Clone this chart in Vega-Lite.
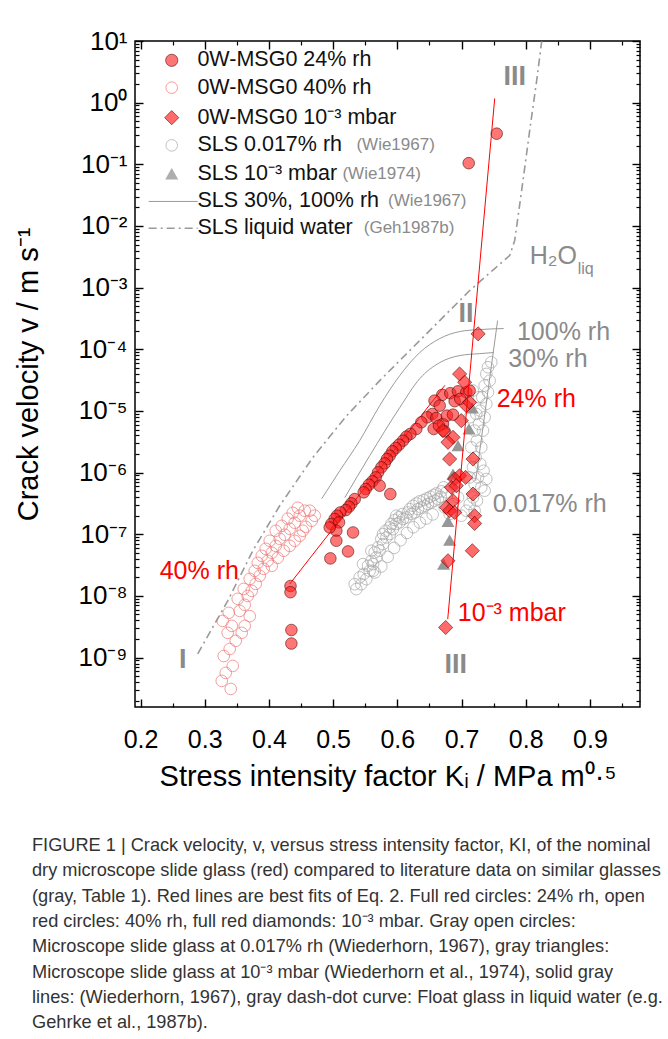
{
  "$schema": "https://vega.github.io/schema/vega-lite/v6.json",
  "width": 505,
  "height": 666,
  "autosize": {"type": "none"},
  "padding": {"left": 135, "top": 41, "right": 28, "bottom": 332},
  "background": "white",
  "title": {
    "text": [
      "FIGURE 1 | Crack velocity, v, versus stress intensity factor, KI, of the nominal",
      "dry microscope slide glass (red) compared to literature data on similar glasses",
      "(gray, Table 1). Red lines are best fits of Eq. 2. Full red circles: 24% rh, open",
      "red circles: 40% rh, full red diamonds: 10⁻³ mbar. Gray open circles:",
      "Microscope slide glass at 0.017% rh (Wiederhorn, 1967), gray triangles:",
      "Microscope slide glass at 10⁻³ mbar (Wiederhorn et al., 1974), solid gray",
      "lines: (Wiederhorn, 1967), gray dash-dot curve: Float glass in liquid water (e.g.",
      "Gehrke et al., 1987b)."
    ],
    "orient": "bottom",
    "anchor": "start",
    "frame": "group",
    "align": "left",
    "baseline": "top",
    "dx": -103,
    "offset": 46,
    "font": "Liberation Sans",
    "fontSize": 18.2,
    "fontWeight": "normal",
    "color": "#333333",
    "lineHeight": 25.3
  },
  "datasets": {
    "r24": [
      {"K":0.670,"v":1.82e-5},{"K":0.6825,"v":1.94e-5},{"K":0.6945,"v":2.08e-5},{"K":0.7075,"v":2.01e-5},{"K":0.7126,"v":2.14e-5},
      {"K":0.658,"v":1.47e-5},{"K":0.666,"v":1.22e-5},{"K":0.6893,"v":1.44e-5},{"K":0.698,"v":1.57e-5},{"K":0.6545,"v":8.93e-6},
      {"K":0.6467,"v":7.89e-6},{"K":0.6607,"v":7.69e-6},{"K":0.6711,"v":6.15e-6},{"K":0.6773,"v":8.4e-6},{"K":0.6867,"v":8.71e-6},
      {"K":0.6566,"v":5.1e-6},{"K":0.6374,"v":6.55e-6},{"K":0.6296,"v":5.1e-6},{"K":0.6203,"v":4.24e-6},{"K":0.6141,"v":3.83e-6},
      {"K":0.6089,"v":3.3e-6},{"K":0.6027,"v":2.84e-6},{"K":0.5975,"v":2.51e-6},{"K":0.5923,"v":2.21e-6},{"K":0.5881,"v":1.88e-6},
      {"K":0.5839,"v":1.66e-6},{"K":0.5803,"v":1.41e-6},{"K":0.5752,"v":1.22e-6},{"K":0.57,"v":1.01e-6},{"K":0.5663,"v":8.37e-7},
      {"K":0.5611,"v":7.21e-7},{"K":0.5559,"v":6.37e-7},{"K":0.5507,"v":5.42e-7},{"K":0.5476,"v":4.79e-7},{"K":0.5725,"v":6.14e-7},
      {"K":0.5891,"v":4.49e-7},{"K":0.5336,"v":3.72e-7},{"K":0.5284,"v":3.17e-7},{"K":0.5247,"v":2.8e-7},{"K":0.5196,"v":2.47e-7},
      {"K":0.5112,"v":2.26e-7},{"K":0.5061,"v":2.0e-7},{"K":0.5024,"v":1.77e-7},{"K":0.4972,"v":1.47e-7},{"K":0.5092,"v":1.56e-7},
      {"K":0.505,"v":1.14e-7},{"K":0.531,"v":1.07e-7},{"K":0.505,"v":7.85e-8},{"K":0.5232,"v":5.27e-8},{"K":0.4957,"v":4.06e-8},
      {"K":0.4947,"v":1.29e-7},{"K":0.4336,"v":1.45e-8},{"K":0.4336,"v":1.15e-8},{"K":0.435,"v":2.8e-9},{"K":0.435,"v":1.69e-9},
      {"K":0.6737,"v":4.68e-6},{"K":0.6649,"v":5.78e-6},{"K":0.7112,"v":0.1045},{"K":0.7548,"v":0.314}
    ],
    "r40": [
      {"K":0.3405,"v":3.1e-10},{"K":0.3265,"v":4.19e-10},{"K":0.3327,"v":5.65e-10},{"K":0.3436,"v":7.33e-10},{"K":0.3296,"v":1.06e-9},
      {"K":0.3389,"v":1.38e-9},{"K":0.3483,"v":1.87e-9},{"K":0.3358,"v":2.52e-9},{"K":0.3421,"v":3.27e-9},{"K":0.328,"v":3.94e-9},
      {"K":0.3374,"v":5.32e-9},{"K":0.3545,"v":5.73e-9},{"K":0.3623,"v":7.17e-9},{"K":0.3514,"v":8.97e-9},{"K":0.367,"v":1.0e-8},
      {"K":0.3732,"v":1.21e-8},{"K":0.3607,"v":1.3e-8},{"K":0.3794,"v":1.57e-8},{"K":0.3701,"v":1.89e-8},{"K":0.3857,"v":2.12e-8},
      {"K":0.3779,"v":2.55e-8},{"K":0.3919,"v":2.75e-8},{"K":0.3826,"v":3.44e-8},{"K":0.3981,"v":3.71e-8},{"K":0.3888,"v":4.48e-8},
      {"K":0.4044,"v":5.01e-8},{"K":0.395,"v":5.82e-8},{"K":0.4106,"v":6.5e-8},{"K":0.4013,"v":7.84e-8},{"K":0.4168,"v":8.45e-8},
      {"K":0.4246,"v":9.82e-8},{"K":0.4106,"v":1.14e-7},{"K":0.4324,"v":1.23e-7},{"K":0.4199,"v":1.37e-7},{"K":0.4402,"v":1.54e-7},
      {"K":0.4293,"v":1.79e-7},{"K":0.448,"v":2.0e-7},{"K":0.4371,"v":2.23e-7},{"K":0.4558,"v":2.41e-7},{"K":0.4449,"v":2.69e-7},
      {"K":0.4636,"v":2.41e-7},{"K":0.4667,"v":1.66e-7},{"K":0.4573,"v":1.32e-7},{"K":0.448,"v":9.46e-8},{"K":0.4402,"v":7.84e-8},
      {"K":0.4713,"v":2.0e-7},{"K":0.4527,"v":1.14e-7},{"K":0.4324,"v":6.5e-8},{"K":0.4231,"v":5.4e-8},{"K":0.4137,"v":4.15e-8},
      {"K":0.4044,"v":3.08e-8},{"K":0.3623,"v":3.27e-9},{"K":0.3701,"v":4.7e-9},{"K":0.3576,"v":2.52e-9}
    ],
    "sls": [
      {"K":0.5362,"v":1.29e-8},{"K":0.5439,"v":1.55e-8},{"K":0.5517,"v":1.87e-8},{"K":0.5476,"v":2.26e-8},{"K":0.5569,"v":2.56e-8},
      {"K":0.5543,"v":3.08e-8},{"K":0.5622,"v":3.28e-8},{"K":0.5596,"v":3.71e-8},{"K":0.5673,"v":4.22e-8},{"K":0.5647,"v":5.08e-8},
      {"K":0.5725,"v":5.41e-8},{"K":0.5699,"v":6.12e-8},{"K":0.5777,"v":6.93e-8},{"K":0.5751,"v":8.36e-8},{"K":0.5829,"v":8.89e-8},
      {"K":0.5881,"v":1.01e-7},{"K":0.5818,"v":1.14e-7},{"K":0.5933,"v":1.21e-7},{"K":0.5907,"v":1.47e-7},{"K":0.5984,"v":1.47e-7},
      {"K":0.5958,"v":1.7e-7},{"K":0.6036,"v":1.56e-7},{"K":0.6026,"v":1.88e-7},{"K":0.6088,"v":1.77e-7},{"K":0.6078,"v":2.13e-7},
      {"K":0.6141,"v":1.88e-7},{"K":0.6166,"v":2.26e-7},{"K":0.6218,"v":2.13e-7},{"K":0.6192,"v":2.56e-7},{"K":0.627,"v":2.26e-7},
      {"K":0.6244,"v":2.9e-7},{"K":0.6322,"v":2.56e-7},{"K":0.6296,"v":3.17e-7},{"K":0.6374,"v":2.73e-7},{"K":0.6348,"v":3.42e-7},
      {"K":0.6426,"v":2.9e-7},{"K":0.641,"v":3.59e-7},{"K":0.6477,"v":3.09e-7},{"K":0.6462,"v":3.82e-7},{"K":0.6529,"v":3.29e-7},
      {"K":0.6514,"v":4.06e-7},{"K":0.6581,"v":3.5e-7},{"K":0.6566,"v":4.33e-7},{"K":0.6633,"v":3.72e-7},{"K":0.6607,"v":4.6e-7},
      {"K":0.6675,"v":4.06e-7},{"K":0.6685,"v":4.97e-7},{"K":0.6721,"v":5.77e-7},{"K":0.6763,"v":4.79e-7},{"K":0.5413,"v":2.0e-8},
      {"K":0.5336,"v":1.55e-8},{"K":0.5622,"v":2.56e-8},{"K":0.5984,"v":2.0e-7},{"K":0.5881,"v":1.29e-7},{"K":0.5777,"v":1.01e-7},
      {"K":0.5596,"v":5.41e-8},{"K":0.5465,"v":3.28e-8},
      {"K":0.565,"v":2.4e-8},{"K":0.575,"v":3.0e-8},{"K":0.585,"v":4.3e-8},{"K":0.595,"v":6.0e-8},{"K":0.605,"v":8.0e-8},
      {"K":0.615,"v":1.05e-7},{"K":0.625,"v":1.3e-7},{"K":0.635,"v":1.55e-7},{"K":0.645,"v":1.8e-7},{"K":0.655,"v":2.1e-7},
      {"K":0.7464,"v":6.17e-5},{"K":0.7412,"v":5.12e-5},{"K":0.7386,"v":3.99e-5},{"K":0.7438,"v":3.1e-5},{"K":0.736,"v":2.58e-5},
      {"K":0.7412,"v":2.01e-5},{"K":0.7323,"v":1.67e-5},{"K":0.7386,"v":1.3e-5},{"K":0.7292,"v":1.01e-5},{"K":0.736,"v":7.89e-6},
      {"K":0.7272,"v":6.15e-6},{"K":0.7334,"v":4.8e-6},{"K":0.724,"v":3.3e-6},{"K":0.7308,"v":2.57e-6},{"K":0.722,"v":1.77e-6},
      {"K":0.7292,"v":1.38e-6},{"K":0.7344,"v":1.07e-6},{"K":0.7256,"v":8.37e-7},{"K":0.7204,"v":6.53e-7},{"K":0.7308,"v":5.77e-7},
      {"K":0.7386,"v":7.87e-7},{"K":0.736,"v":5.09e-7},{"K":0.7179,"v":3.96e-7},{"K":0.7127,"v":3.09e-7},{"K":0.7204,"v":2.41e-7},
      {"K":0.724,"v":3.5e-7},{"K":0.7075,"v":2.41e-7},{"K":0.6997,"v":2.0e-7},{"K":0.6867,"v":3.09e-7},{"K":0.6945,"v":3.96e-7},
      {"K":0.7126,"v":8.37e-7},{"K":0.7178,"v":1.22e-6},{"K":0.7152,"v":2.57e-6},{"K":0.7204,"v":4.8e-6},{"K":0.723,"v":8.93e-6},
      {"K":0.7272,"v":1.67e-5},{"K":0.7126,"v":7.89e-6},{"K":0.7178,"v":2.14e-5},{"K":0.6815,"v":2.13e-7},{"K":0.6737,"v":2.73e-7}
    ],
    "tri": [
      {"K":0.7168,"v":1.12e-5},{"K":0.7116,"v":5.11e-6},{"K":0.6945,"v":2.74e-6},{"K":0.6867,"v":9.48e-7},
      {"K":0.6789,"v":1.62e-7},{"K":0.6815,"v":8.05e-8},{"K":0.6721,"v":3.28e-8}
    ],
    "dia": [
      {"K":0.7259,"v":1.78e-4},{"K":0.697,"v":3.98e-5},{"K":0.7048,"v":2.92e-5},{"K":0.7074,"v":1.22e-5},{"K":0.7126,"v":1.38e-5},
      {"K":0.6867,"v":3.73e-6},{"K":0.6789,"v":3.1e-6},{"K":0.6815,"v":1.66e-6},{"K":0.7179,"v":1.66e-6},{"K":0.697,"v":8.91e-7},
      {"K":0.7064,"v":8.37e-7},{"K":0.6893,"v":7.87e-7},{"K":0.6841,"v":5.77e-7},{"K":0.6919,"v":6.14e-7},{"K":0.7179,"v":4.49e-7},
      {"K":0.6867,"v":3.5e-7},{"K":0.6763,"v":2.73e-7},{"K":0.6815,"v":2.41e-7},{"K":0.6893,"v":2.26e-7},{"K":0.7204,"v":2.0e-7},
      {"K":0.7204,"v":1.5e-7},{"K":0.7168,"v":5.41e-8},{"K":0.6789,"v":3.72e-8},{"K":0.6753,"v":3.08e-9},{"K":0.6711,"v":4.8e-6},
      {"K":0.6996,"v":6.97e-6}
    ],
    "curves": [
      {"curve":"water","K":0.2891,"v":1.15e-9},{"curve":"water","K":0.3358,"v":8.32e-9},{"curve":"water","K":0.3748,"v":5.39e-8},
      {"curve":"water","K":0.4168,"v":2.9e-7},{"curve":"water","K":0.4682,"v":1.75e-6},{"curve":"water","K":0.5212,"v":8.4e-6},
      {"curve":"water","K":0.5726,"v":3.1e-5},{"curve":"water","K":0.6193,"v":9.53e-5},{"curve":"water","K":0.666,"v":2.92e-4},
      {"curve":"water","K":0.7127,"v":8.97e-4},{"curve":"water","K":0.7517,"v":2.04e-3},{"curve":"water","K":0.775,"v":3.32e-3},
      {"curve":"water","K":0.7828,"v":5.82e-3},{"curve":"water","K":0.7937,"v":0.0377},{"curve":"water","K":0.8062,"v":0.355},
      {"curve":"water","K":0.8171,"v":2.3},{"curve":"water","K":0.8249,"v":9.89},
      {"curve":"rh100","K":0.4822,"v":3.77e-7},{"curve":"rh100","K":0.5103,"v":1.07e-6},{"curve":"rh100","K":0.5414,"v":3.3e-6},
      {"curve":"rh100","K":0.5726,"v":1.22e-5},{"curve":"rh100","K":0.6037,"v":3.74e-5},{"curve":"rh100","K":0.6349,"v":8.85e-5},
      {"curve":"rh100","K":0.666,"v":1.49e-4},{"curve":"rh100","K":0.6972,"v":1.94e-4},{"curve":"rh100","K":0.7283,"v":2.09e-4},
      {"curve":"rh100","K":0.7657,"v":2.17e-4},
      {"curve":"rh30","K":0.5181,"v":3.92e-7},{"curve":"rh30","K":0.557,"v":1.88e-6},{"curve":"rh30","K":0.6037,"v":1.13e-5},
      {"curve":"rh30","K":0.6349,"v":3.34e-5},{"curve":"rh30","K":0.666,"v":6.08e-5},{"curve":"rh30","K":0.6972,"v":7.91e-5},
      {"curve":"rh30","K":0.7283,"v":8.51e-5},{"curve":"rh30","K":0.7501,"v":8.85e-5},
      {"curve":"slsIII","K":0.722,"v":7.38e-7},{"curve":"slsIII","K":0.7562,"v":2.92e-4},
      {"curve":"fitB","K":0.4324,"v":1.56e-8},{"curve":"fitB","K":0.674,"v":2.6e-5},
      {"curve":"fitA","K":0.6785,"v":4.2e-9},{"curve":"fitA","K":0.7517,"v":1.17}
    ],
    "legendLines": [
      {"item":"solid","K":0.2127,"v":0.025},{"item":"solid","K":0.289,"v":0.025},
      {"item":"dashdot","K":0.2127,"v":0.0092},{"item":"dashdot","K":0.289,"v":0.0092}
    ],
    "legendText": [
      {"part":"main","text":"0W-MSG0 24% rh","K":0.2886,"v":4.86},
      {"part":"main","text":"0W-MSG0 40% rh","K":0.2886,"v":1.75},
      {"part":"main","text":"0W-MSG0 10⁻³ mbar","K":0.2886,"v":0.571},
      {"part":"main","text":"SLS  0.017% rh","K":0.2886,"v":0.203},
      {"part":"main","text":"SLS 10⁻³ mbar","K":0.2886,"v":0.0703},
      {"part":"main","text":"SLS 30%, 100% rh","K":0.2886,"v":0.025},
      {"part":"main","text":"SLS liquid water","K":0.2886,"v":0.0092},
      {"part":"ref","text":"(Wie1967)","K":0.5363,"v":0.203},
      {"part":"ref","text":"(Wie1974)","K":0.5145,"v":0.0703},
      {"part":"ref","text":"(Wie1967)","K":0.5855,"v":0.025},
      {"part":"ref","text":"(Geh1987b)","K":0.5477,"v":0.0092}
    ],
    "labels": [
      {"group":"numeral","text":"III","K":0.7829,"v":2.58},
      {"group":"numeral","text":"II","K":0.7068,"v":3.8e-4},
      {"group":"numeral","text":"I","K":0.2657,"v":9.18e-10},
      {"group":"numeral","text":"III","K":0.691,"v":7.62e-10},
      {"group":"gray","text":"100% rh","K":0.7863,"v":1.94e-4},
      {"group":"gray","text":"30% rh","K":0.7729,"v":7.06e-5},
      {"group":"gray","text":"0.017% rh","K":0.7486,"v":3.13e-7},
      {"group":"gray","text":"H₂O","K":0.8063,"v":3.32e-3},
      {"group":"red","text":"24% rh","K":0.7548,"v":1.57e-5},
      {"group":"red","text":"40% rh","K":0.2299,"v":2.55e-8},
      {"group":"red","text":"10⁻³ mbar","K":0.6941,"v":5.32e-9},
      {"group":"sub","text":"liq","K":0.881,"v":2.04e-3}
    ]
  },
  "layer": [
    {
      "data": {"name": "curves"},
      "transform": [{"filter": "datum.curve === 'water'"}],
      "mark": {"type": "line", "stroke": "#999999", "strokeWidth": 1.6, "strokeDash": [8, 4, 2, 4]},
      "encoding": {
        "x": {"field": "K", "type": "quantitative", "scale": {"domain": [0.1914, 0.978], "nice": false, "zero": false}, "axis": null},
        "y": {"field": "v", "type": "quantitative", "scale": {"type": "log", "domain": [1.58e-10, 10], "nice": false}, "axis": null}
      }
    },
    {
      "data": {"name": "curves"},
      "transform": [{"filter": "datum.curve === 'rh100' || datum.curve === 'rh30' || datum.curve === 'slsIII'"}],
      "mark": {"type": "line", "stroke": "#9a9a9a", "strokeWidth": 1, "interpolate": "monotone"},
      "encoding": {
        "x": {"field": "K", "type": "quantitative", "axis": null},
        "y": {"field": "v", "type": "quantitative", "axis": null},
        "detail": {"field": "curve"}
      }
    },
    {
      "data": {"name": "sls"},
      "mark": {"type": "point", "shape": "circle", "filled": false, "stroke": "#a6a6a6", "strokeWidth": 1, "size": 135},
      "encoding": {
        "x": {"field": "K", "type": "quantitative", "axis": {
          "orient": "top", "values": [0.2,0.3,0.4,0.5,0.6,0.7,0.8,0.9],
          "labels": false, "title": null, "domain": false, "ticks": true, "tickSize": -8, "tickColor": "#000000", "tickWidth": 1.4, "zindex": 2
        }},
        "y": {"field": "v", "type": "quantitative", "axis": {
          "orient": "right", "values": [1e-9,1e-8,1e-7,1e-6,1e-5,1e-4,1e-3,0.01,0.1,1,10],
          "labels": false, "title": null, "domain": false, "ticks": true, "tickSize": -8, "tickColor": "#000000", "tickWidth": 1.4, "zindex": 2
        }}
      }
    },
    {
      "data": {"name": "r40"},
      "mark": {"type": "point", "shape": "circle", "filled": false, "stroke": "#f07575", "strokeWidth": 1, "size": 135},
      "encoding": {
        "x": {"field": "K", "type": "quantitative", "axis": {
          "orient": "bottom", "values": [0.25,0.35,0.45,0.55,0.65,0.75,0.85,0.95],
          "labels": false, "title": null, "domain": false, "ticks": true, "tickSize": -4, "tickColor": "#000000", "tickWidth": 1.2, "zindex": 2
        }},
        "y": {"field": "v", "type": "quantitative", "axis": {
          "orient": "left",
          "values": [2e-10,3e-10,4e-10,5e-10,6e-10,7e-10,8e-10,9e-10,2e-9,3e-9,4e-9,5e-9,6e-9,7e-9,8e-9,9e-9,2e-8,3e-8,4e-8,5e-8,6e-8,7e-8,8e-8,9e-8,2e-7,3e-7,4e-7,5e-7,6e-7,7e-7,8e-7,9e-7,2e-6,3e-6,4e-6,5e-6,6e-6,7e-6,8e-6,9e-6,2e-5,3e-5,4e-5,5e-5,6e-5,7e-5,8e-5,9e-5,2e-4,3e-4,4e-4,5e-4,6e-4,7e-4,8e-4,9e-4,2e-3,3e-3,4e-3,5e-3,6e-3,7e-3,8e-3,9e-3,0.02,0.03,0.04,0.05,0.06,0.07,0.08,0.09,0.2,0.3,0.4,0.5,0.6,0.7,0.8,0.9,2,3,4,5,6,7,8,9],
          "labels": false, "title": null, "domain": false, "ticks": true, "tickSize": -4, "tickColor": "#000000", "tickWidth": 1.2, "zindex": 2
        }}
      }
    },
    {
      "data": {"name": "curves"},
      "transform": [{"filter": "datum.curve === 'fitB'"}],
      "mark": {"type": "line", "stroke": "#ff0000", "strokeWidth": 1},
      "encoding": {
        "x": {"field": "K", "type": "quantitative", "axis": null},
        "y": {"field": "v", "type": "quantitative", "axis": null}
      }
    },
    {
      "data": {"name": "r24"},
      "mark": {"type": "point", "shape": "circle", "filled": true, "fill": "#ff1a1a", "fillOpacity": 0.6, "stroke": "#4d0000", "strokeOpacity": 0.7, "strokeWidth": 0.8, "size": 135},
      "encoding": {
        "x": {"field": "K", "type": "quantitative", "axis": {
          "orient": "bottom", "values": [0.2,0.3,0.4,0.5,0.6,0.7,0.8,0.9],
          "format": ".1f", "labelOverlap": false, "labelFlush": false, "domain": false,
          "ticks": true, "tickSize": -8, "tickColor": "#000000", "tickWidth": 1.4, "labelPadding": 28, "zindex": 2,
          "title": "Stress intensity factor Kᵢ / MPa m⁰·⁵", "titlePadding": 10
        }},
        "y": {"field": "v", "type": "quantitative", "axis": {
          "orient": "left", "values": [1e-9,1e-8,1e-7,1e-6,1e-5,1e-4,1e-3,0.01,0.1,1,10],
          "labelExpr": "'10' + (datum.value < 0.5 ? '⁻' : '') + ['⁰','¹','²','³','⁴','⁵','⁶','⁷','⁸','⁹'][abs(round(log(datum.value)/LN10))]",
          "labelOverlap": false, "labelFlush": false, "domain": false, "labelFontSize": 26,
          "ticks": true, "tickSize": -8, "tickColor": "#000000", "tickWidth": 1.4, "labelPadding": 16, "zindex": 2,
          "title": "Crack velocity v / m s⁻¹", "titlePadding": 34
        }}
      }
    },
    {
      "data": {"name": "tri"},
      "mark": {"type": "point", "shape": "triangle-up", "filled": true, "fill": "#8c8c8c", "fillOpacity": 0.9, "strokeWidth": 0, "size": 170},
      "encoding": {
        "x": {"field": "K", "type": "quantitative", "axis": null},
        "y": {"field": "v", "type": "quantitative", "axis": null}
      }
    },
    {
      "data": {"name": "dia"},
      "mark": {"type": "point", "shape": "diamond", "filled": true, "fill": "#ff1a1a", "fillOpacity": 0.65, "stroke": "#4d0000", "strokeOpacity": 0.7, "strokeWidth": 0.8, "size": 200},
      "encoding": {
        "x": {"field": "K", "type": "quantitative", "axis": {
          "orient": "top", "values": [0.25,0.35,0.45,0.55,0.65,0.75,0.85,0.95],
          "labels": false, "title": null, "domain": false, "ticks": true, "tickSize": -4, "tickColor": "#000000", "tickWidth": 1.2, "zindex": 2
        }},
        "y": {"field": "v", "type": "quantitative", "axis": {
          "orient": "right",
          "values": [2e-10,3e-10,4e-10,5e-10,6e-10,7e-10,8e-10,9e-10,2e-9,3e-9,4e-9,5e-9,6e-9,7e-9,8e-9,9e-9,2e-8,3e-8,4e-8,5e-8,6e-8,7e-8,8e-8,9e-8,2e-7,3e-7,4e-7,5e-7,6e-7,7e-7,8e-7,9e-7,2e-6,3e-6,4e-6,5e-6,6e-6,7e-6,8e-6,9e-6,2e-5,3e-5,4e-5,5e-5,6e-5,7e-5,8e-5,9e-5,2e-4,3e-4,4e-4,5e-4,6e-4,7e-4,8e-4,9e-4,2e-3,3e-3,4e-3,5e-3,6e-3,7e-3,8e-3,9e-3,0.02,0.03,0.04,0.05,0.06,0.07,0.08,0.09,0.2,0.3,0.4,0.5,0.6,0.7,0.8,0.9,2,3,4,5,6,7,8,9],
          "labels": false, "title": null, "domain": false, "ticks": true, "tickSize": -4, "tickColor": "#000000", "tickWidth": 1.2, "zindex": 2
        }}
      }
    },
    {
      "data": {"name": "curves"},
      "transform": [{"filter": "datum.curve === 'fitA'"}],
      "mark": {"type": "line", "stroke": "#ff0000", "strokeWidth": 1},
      "encoding": {
        "x": {"field": "K", "type": "quantitative", "axis": null},
        "y": {"field": "v", "type": "quantitative", "axis": null}
      }
    },
    {
      "data": {"values": [{}]},
      "mark": {"type": "point", "shape": "circle", "filled": true, "fill": "#ff1a1a", "fillOpacity": 0.6, "stroke": "#4d0000", "strokeOpacity": 0.7, "strokeWidth": 0.8, "size": 150},
      "encoding": {
        "x": {"datum": 0.2486, "type": "quantitative", "axis": null},
        "y": {"datum": 4.86, "type": "quantitative", "axis": null}
      }
    },
    {
      "data": {"values": [{}]},
      "mark": {"type": "point", "shape": "circle", "filled": false, "stroke": "#f07575", "strokeWidth": 1, "size": 135},
      "encoding": {
        "x": {"datum": 0.2486, "type": "quantitative", "axis": null},
        "y": {"datum": 1.75, "type": "quantitative", "axis": null}
      }
    },
    {
      "data": {"values": [{}]},
      "mark": {"type": "point", "shape": "diamond", "filled": true, "fill": "#ff1a1a", "fillOpacity": 0.65, "stroke": "#4d0000", "strokeOpacity": 0.7, "strokeWidth": 0.8, "size": 200},
      "encoding": {
        "x": {"datum": 0.2486, "type": "quantitative", "axis": null},
        "y": {"datum": 0.571, "type": "quantitative", "axis": null}
      }
    },
    {
      "data": {"values": [{}]},
      "mark": {"type": "point", "shape": "circle", "filled": false, "stroke": "#a6a6a6", "strokeWidth": 1, "size": 135},
      "encoding": {
        "x": {"datum": 0.2486, "type": "quantitative", "axis": null},
        "y": {"datum": 0.203, "type": "quantitative", "axis": null}
      }
    },
    {
      "data": {"values": [{}]},
      "mark": {"type": "point", "shape": "triangle-up", "filled": true, "fill": "#8c8c8c", "strokeWidth": 0, "size": 170},
      "encoding": {
        "x": {"datum": 0.2486, "type": "quantitative", "axis": null},
        "y": {"datum": 0.0703, "type": "quantitative", "axis": null}
      }
    },
    {
      "data": {"name": "legendLines"},
      "transform": [{"filter": "datum.item === 'solid'"}],
      "mark": {"type": "line", "stroke": "#9a9a9a", "strokeWidth": 1},
      "encoding": {
        "x": {"field": "K", "type": "quantitative", "axis": null},
        "y": {"field": "v", "type": "quantitative", "axis": null}
      }
    },
    {
      "data": {"name": "legendLines"},
      "transform": [{"filter": "datum.item === 'dashdot'"}],
      "mark": {"type": "line", "stroke": "#999999", "strokeWidth": 1.6, "strokeDash": [8, 4, 2, 4]},
      "encoding": {
        "x": {"field": "K", "type": "quantitative", "axis": null},
        "y": {"field": "v", "type": "quantitative", "axis": null}
      }
    },
    {
      "data": {"name": "legendText"},
      "transform": [{"filter": "datum.part === 'main'"}],
      "mark": {"type": "text", "align": "left", "baseline": "middle", "font": "Liberation Sans", "fontSize": 21.5, "fill": "#111111"},
      "encoding": {
        "x": {"field": "K", "type": "quantitative", "axis": null},
        "y": {"field": "v", "type": "quantitative", "axis": null},
        "text": {"field": "text"}
      }
    },
    {
      "data": {"name": "legendText"},
      "transform": [{"filter": "datum.part === 'ref'"}],
      "mark": {"type": "text", "align": "left", "baseline": "middle", "font": "Liberation Sans", "fontSize": 17, "fill": "#8a8a8a"},
      "encoding": {
        "x": {"field": "K", "type": "quantitative", "axis": null},
        "y": {"field": "v", "type": "quantitative", "axis": null},
        "text": {"field": "text"}
      }
    },
    {
      "data": {"name": "labels"},
      "transform": [{"filter": "datum.group === 'numeral'"}],
      "mark": {"type": "text", "align": "center", "baseline": "middle", "font": "Liberation Sans", "fontSize": 27, "fontWeight": "bold", "fill": "#8a8a8a"},
      "encoding": {
        "x": {"field": "K", "type": "quantitative", "axis": null},
        "y": {"field": "v", "type": "quantitative", "axis": null},
        "text": {"field": "text"}
      }
    },
    {
      "data": {"name": "labels"},
      "transform": [{"filter": "datum.group === 'gray'"}],
      "mark": {"type": "text", "align": "left", "baseline": "middle", "font": "Liberation Sans", "fontSize": 25, "fill": "#8a8a8a"},
      "encoding": {
        "x": {"field": "K", "type": "quantitative", "axis": null},
        "y": {"field": "v", "type": "quantitative", "axis": null},
        "text": {"field": "text"}
      }
    },
    {
      "data": {"name": "labels"},
      "transform": [{"filter": "datum.group === 'sub'"}],
      "mark": {"type": "text", "align": "left", "baseline": "middle", "font": "Liberation Sans", "fontSize": 16, "fill": "#8a8a8a"},
      "encoding": {
        "x": {"field": "K", "type": "quantitative", "axis": null},
        "y": {"field": "v", "type": "quantitative", "axis": null},
        "text": {"field": "text"}
      }
    },
    {
      "data": {"name": "labels"},
      "transform": [{"filter": "datum.group === 'red'"}],
      "mark": {"type": "text", "align": "left", "baseline": "middle", "font": "Liberation Sans", "fontSize": 25, "fill": "#ff0000"},
      "encoding": {
        "x": {"field": "K", "type": "quantitative", "axis": null},
        "y": {"field": "v", "type": "quantitative", "axis": null},
        "text": {"field": "text"}
      }
    }
  ],
  "resolve": {"axis": {"x": "independent", "y": "independent"}},
  "config": {
    "view": {"stroke": "#000000", "strokeWidth": 1.5},
    "font": "Liberation Sans",
    "axis": {
      "grid": false,
      "labelFont": "Liberation Sans",
      "labelFontSize": 25,
      "labelColor": "#000000",
      "titleFont": "Liberation Sans",
      "titleFontSize": 29,
      "titleFontWeight": "normal",
      "titleColor": "#000000"
    }
  }
}
